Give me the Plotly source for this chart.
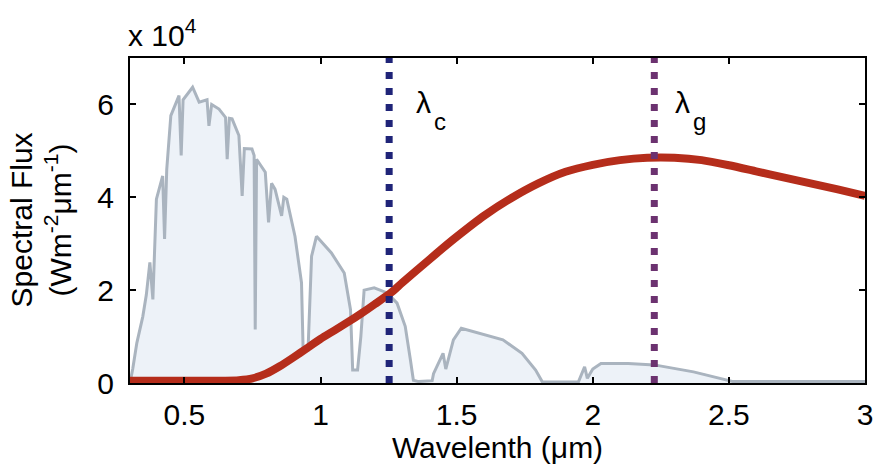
import plotly.graph_objects as go

# Solar spectrum (values in units of 10^4 W m^-2 um^-1)
solar_wl = [0.30, 0.31, 0.325, 0.347, 0.36, 0.373, 0.384, 0.39, 0.397, 0.42, 0.427, 0.435,
            0.45, 0.48, 0.488, 0.495, 0.53, 0.554, 0.583, 0.59, 0.60, 0.627, 0.651, 0.657,
            0.665, 0.675, 0.70, 0.712, 0.72, 0.748, 0.756, 0.76, 0.765, 0.797, 0.809, 0.82,
            0.833, 0.857, 0.865, 0.876, 0.906, 0.93, 0.936, 0.954, 0.967, 0.985, 1.04, 1.087,
            1.11, 1.118, 1.136, 1.148, 1.16, 1.197, 1.245, 1.281, 1.311, 1.33, 1.341, 1.36,
            1.41, 1.415, 1.45, 1.46, 1.488, 1.517, 1.584, 1.67, 1.74, 1.79, 1.815, 1.947,
            1.97, 1.98, 2.0, 2.03, 2.13, 2.226, 2.37, 2.47, 2.516, 3.0]
solar_flux = [0.0, 0.3, 0.86, 1.43, 1.9, 2.6, 1.8, 3.0, 3.96, 4.46, 3.1, 4.6,
              5.76, 6.19, 4.9, 6.1, 6.37, 6.05, 6.1, 5.54, 6.0, 5.9, 5.72, 4.82,
              5.7, 5.69, 5.33, 4.03, 5.05, 5.04, 4.9, 1.15, 4.82, 4.54, 3.46, 4.3,
              4.17, 3.6, 4.0, 3.96, 3.16, 2.16, 0.71, 0.71, 2.73, 3.16, 2.8, 2.37,
              1.58, 0.28, 0.28, 1.0, 2.0, 2.05, 1.94, 1.72, 1.22, 0.5, 0.06, 0.03,
              0.05, 0.2, 0.64, 0.3, 0.93, 1.18, 1.07, 0.93, 0.64, 0.28, 0.02, 0.02,
              0.35, 0.1, 0.3, 0.42, 0.42, 0.39, 0.24, 0.1, 0.03, 0.03]

# Ground emission curve (values in units of 10^4)
ground_wl = [0.30, 0.50, 0.65, 0.70, 0.75, 0.80, 0.85, 0.90, 0.95, 1.00, 1.05, 1.10, 1.15, 1.20,
             1.26, 1.30, 1.40, 1.45, 1.50, 1.60, 1.70, 1.80, 1.90, 2.00, 2.10, 2.20, 2.30,
             2.40, 2.50, 2.60, 2.70, 2.80, 2.90, 3.00]
ground_flux = [0.05, 0.05, 0.05, 0.06, 0.10, 0.20, 0.36, 0.55, 0.75, 0.95, 1.13, 1.31, 1.50, 1.70,
               1.95, 2.16, 2.66, 2.91, 3.15, 3.60, 3.98, 4.30, 4.55, 4.70, 4.80, 4.85, 4.85,
               4.80, 4.69, 4.56, 4.43, 4.30, 4.17, 4.03]

lambda_c = 1.252
lambda_g = 2.226

x_ticks = [0.5, 1, 1.5, 2, 2.5, 3]
x_ticktext = ["0.5", "1", "1.5", "2", "2.5", "3"]
y_ticks = [0, 2, 4, 6]
y_ticktext = ["0", "2", "4", "6"]

FONT = "Liberation Sans, Arial, Helvetica, sans-serif"

fig = go.Figure()
fig.add_trace(go.Scatter(x=solar_wl, y=solar_flux, mode="lines", fill="tozeroy",
                         fillcolor="#edf2f8", line=dict(color="#aab4bf", width=3),
                         showlegend=False, hoverinfo="skip"))
fig.add_trace(go.Scatter(x=ground_wl, y=ground_flux, mode="lines", line_shape="spline",
                         line=dict(color="#b52d1b", width=8, smoothing=0.6), showlegend=False))
fig.add_trace(go.Scatter(x=[lambda_c, lambda_c], y=[0, 7], mode="lines",
                         line=dict(color="#1f2478", width=7, dash="7px,9px"), showlegend=False))
fig.add_trace(go.Scatter(x=[lambda_g, lambda_g], y=[0, 7], mode="lines",
                         line=dict(color="#6c3270", width=7, dash="7px,9px"), showlegend=False))

for lam, sub, dx in [(lambda_c, "c", 0.09), (lambda_g, "g", 0.07)]:
    fig.add_annotation(x=lam + dx, y=6.45, xref="x", yref="y", text="λ",
                       showarrow=False, xanchor="left", yanchor="top",
                       font=dict(family=FONT, size=30, color="black"))
    fig.add_annotation(x=lam + dx, y=6.45, xref="x", yref="y", text=sub,
                       showarrow=False, xanchor="left", yanchor="top", xshift=18, yshift=-22,
                       font=dict(family=FONT, size=24, color="black"))
fig.add_annotation(x=0, y=1, xref="paper", yref="paper", text="x 10<sup>4</sup>",
                   showarrow=False, xanchor="left", yanchor="bottom", yshift=4, xshift=-4,
                   font=dict(family=FONT, size=30, color="black"))
fig.add_annotation(x=0, y=0.5, xref="paper", yref="paper",
                   text="Spectral Flux<br>(Wm<sup>-2</sup>μm<sup>-1</sup>)",
                   textangle=-90, showarrow=False, xanchor="center", yanchor="middle",
                   xshift=-90, font=dict(family=FONT, size=30, color="black"))

fig.update_xaxes(range=[0.3, 3], tickvals=x_ticks, ticktext=x_ticktext,
                 showgrid=False, zeroline=False, showline=True, linecolor="black", linewidth=2,
                 mirror="ticks", ticks="inside", ticklen=6, tickwidth=2, tickcolor="black",
                 tickfont=dict(family=FONT, size=30, color="black"), ticklabelstandoff=4,
                 title=dict(text="Wavelenth (μm)", font=dict(family=FONT, size=30, color="black"),
                            standoff=0))
fig.update_yaxes(range=[0, 7], tickvals=y_ticks, ticktext=y_ticktext,
                 showgrid=False, zeroline=False, showline=True, linecolor="black", linewidth=2,
                 mirror="ticks", ticks="inside", ticklen=6, tickwidth=2, tickcolor="black",
                 tickfont=dict(family=FONT, size=30, color="black"), ticklabelstandoff=8)

fig.update_layout(width=883, height=466, margin=dict(l=130, r=10, t=58, b=83),
                  plot_bgcolor="white", paper_bgcolor="white")

fig.write_html("out.html")
